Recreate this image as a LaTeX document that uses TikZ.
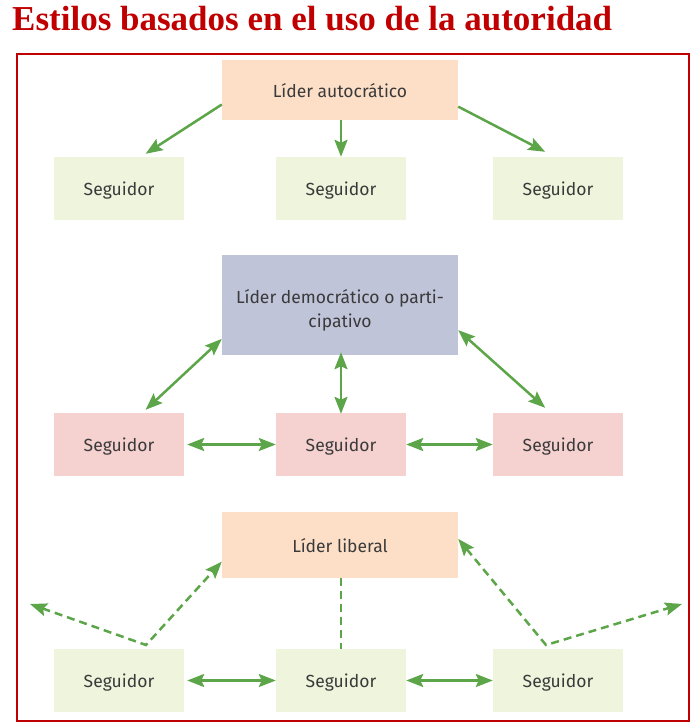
\documentclass[tikz,border=0pt]{standalone}
\usepackage{fontspec}
\setmainfont{Liberation Serif}
\newfontfamily\boxfont{Fira Sans}
\usetikzlibrary{arrows.meta}
\definecolor{titlered}{HTML}{C00000}
\definecolor{peach}{HTML}{FDDFC7}
\definecolor{paleleaf}{HTML}{EFF4DD}
\definecolor{slate}{HTML}{C0C4D9}
\definecolor{rose}{HTML}{F5D1D0}
\definecolor{leaf}{HTML}{5CA548}
\definecolor{boxtext}{HTML}{3A3A3A}
\tikzset{
  title/.style={
    anchor=base west,
    inner sep=0pt,
    text=titlered,
    font=\fontsize{35}{40}\selectfont\bfseries,
  },
  leader box/.style={
    fill=#1,
    minimum width=236pt,
    inner sep=0pt,
    align=center,
    text height=18pt,
    text depth=4pt,
    text=boxtext,
    font=\boxfont\fontsize{17.5}{24}\selectfont,
  },
  follower box/.style={
    fill=#1,
    minimum width=130pt,
    minimum height=63pt,
    inner sep=0pt,
    text height=18pt,
    text depth=4pt,
    text=boxtext,
    font=\boxfont\fontsize{17.5}{24}\selectfont,
  },
  link/.style={
    draw=leaf,
    line width=2.5pt,
    -{Stealth[length=17pt,width=13pt,inset=3pt]},
  },
  both ways/.style={
    link,
    {Stealth[length=17pt,width=13pt,inset=3pt]}-{Stealth[length=17pt,width=13pt,inset=3pt]},
  },
  loose/.style={
    dash pattern=on 8pt off 5pt,
  }
}

\begin{document}
\begin{tikzpicture}[x=1pt,y=-1pt]
  \useasboundingbox (0,0) rectangle (698,725);
  \node [title] (head) at (12,31) {Estilos basados en el uso de la autoridad};
  \draw [titlered, line width=2pt] (17,54) rectangle (689,721);

  \node [leader box=peach, minimum height=60pt] (auto) at (340,90) {Líder autocrático};
  \node [follower box=paleleaf] (a1) at (119,188.5) {Seguidor};
  \node [follower box=paleleaf] (a2) at (341,188.5) {Seguidor};
  \node [follower box=paleleaf] (a3) at (558,188.5) {Seguidor};

  \draw [link] (auto.187) -- ([yshift=3pt]a1.50);
  \draw [link] (auto.south -| a2) -- (a2.north);
  \draw [link] (auto.352) -- ([yshift=5pt]a3.112);

  \node [leader box=slate, minimum height=100pt, text height=48pt] (demo) at (340,305) {Líder democrático o parti-\\cipativo};
  \node [follower box=rose] (d1) at (119,444.5) {Seguidor};
  \node [follower box=rose] (d2) at (341,444.5) {Seguidor};
  \node [follower box=rose] (d3) at (558,444.5) {Seguidor};

  \draw [both ways] (demo.196) -- ([yshift=3pt]d1.50);
  \draw [both ways] ([yshift=3pt]demo.south -| d2) -- ([yshift=-1pt]d2.north);
  \draw [both ways] (demo.348) -- ([yshift=5pt]d3.112);
  \draw [both ways] ([xshift=3pt]d1.east) -- (d2.west);
  \draw [both ways] (d2.east) -- (d3.west);

  \node [leader box=peach, minimum height=66pt] (free) at (340,545) {Líder liberal};
  \node [follower box=paleleaf] (l1) at (119,680.5) {Seguidor};
  \node [follower box=paleleaf] (l2) at (341,680.5) {Seguidor};
  \node [follower box=paleleaf] (l3) at (558,680.5) {Seguidor};

  \coordinate (k1) at (146,645);
  \coordinate (k2) at (546,645);
  \coordinate (out1) at (30,604);
  \coordinate (out2) at (682,604);

  \draw [both ways, loose] (out1) -- (k1) -- (free.188);
  \draw [both ways, loose] (free.3) -- (k2) -- (out2);
  \draw [draw=leaf, line width=2.5pt, loose] (free.south -| l2) -- (l2.north);
  \draw [both ways] ([xshift=3pt]l1.east) -- (l2.west);
  \draw [both ways] (l2.east) -- (l3.west);
\end{tikzpicture}
\end{document}
